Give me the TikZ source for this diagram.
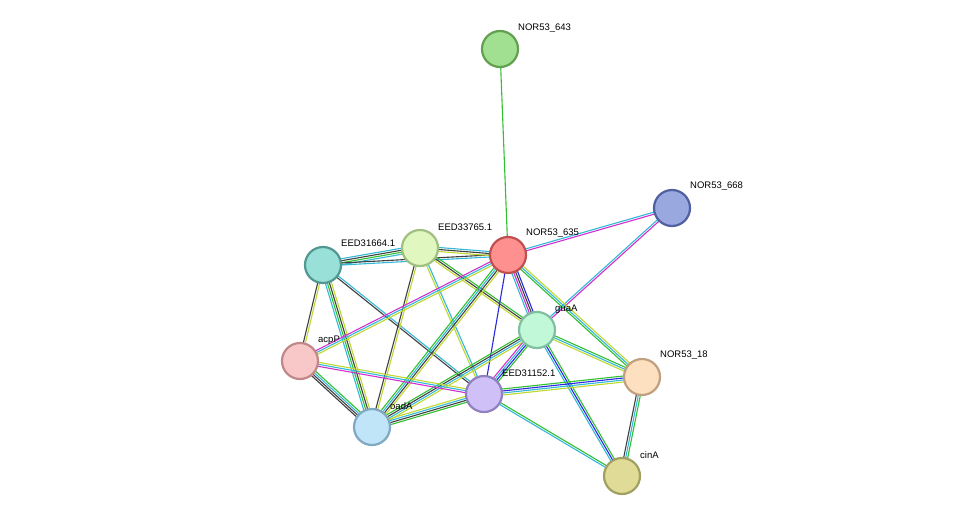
\documentclass[tikz,border=0pt]{standalone}
\usepackage{fontspec}
\setmainfont{Liberation Sans}
\usetikzlibrary{calc}
\definecolor{cC}{HTML}{33B8D8}
\definecolor{cM}{HTML}{D030D0}
\definecolor{cK}{HTML}{404040}
\definecolor{cG}{HTML}{30C030}
\definecolor{cY}{HTML}{C0D830}
\definecolor{cB}{HTML}{2828E0}
\definecolor{f1}{HTML}{A0E090}\definecolor{d1}{HTML}{60A050}
\definecolor{f2}{HTML}{9AA8E0}\definecolor{d2}{HTML}{5060A0}
\definecolor{f3}{HTML}{FF9090}\definecolor{d3}{HTML}{C05050}
\definecolor{f4}{HTML}{E0F8C0}\definecolor{d4}{HTML}{A0C080}
\definecolor{f5}{HTML}{98E0D8}\definecolor{d5}{HTML}{509890}
\definecolor{f6}{HTML}{C0F8D8}\definecolor{d6}{HTML}{80C0A0}
\definecolor{f7}{HTML}{F8C8C8}\definecolor{d7}{HTML}{C08888}
\definecolor{f8}{HTML}{D0C0F8}\definecolor{d8}{HTML}{9080C0}
\definecolor{f9}{HTML}{FDE0C0}\definecolor{d9}{HTML}{C0A080}
\definecolor{f10}{HTML}{C0E4F8}\definecolor{d10}{HTML}{80A8C0}
\definecolor{f11}{HTML}{E0DC98}\definecolor{d11}{HTML}{A0A060}
\newcommand\edg[3]{\foreach \c/\o in {#3}{\draw[line width=1.1pt,\c] ($(#1)!\o pt!90:(#2)$) -- ($(#2)!\o pt!-90:(#1)$);}}
\tikzset{prot/.style={circle,minimum size=36pt,inner sep=0pt,line width=2.2pt,fill=f#1,draw=d#1},
lab/.style={anchor=west,font=\fontsize{9.5pt}{11pt}\selectfont,inner sep=0pt}}
\begin{document}
\begin{tikzpicture}[x=1pt,y=-1pt]
\useasboundingbox[fill=white] (0,0) rectangle (976,522);
\coordinate (n643) at (500,49);
\coordinate (n668) at (672,208);
\coordinate (n635) at (508,255);
\coordinate (e765) at (420,248);
\coordinate (e664) at (323,265);
\coordinate (gua) at (537,330);
\coordinate (acp) at (300,361);
\coordinate (e152) at (484,394);
\coordinate (n18) at (642,377);
\coordinate (oad) at (372,427);
\coordinate (cin) at (622,476);
\edg{n643}{n635}{cG/0}
\edg{n635}{n668}{cM/-1,cC/1}
\edg{gua}{n668}{cM/-1,cC/1}
\edg{e664}{e765}{cC/-3,cG/-1,cK/1,cC/3}
\edg{e664}{n635}{cC/-1,cK/1}
\edg{e765}{n635}{cY/-2,cK/0,cC/2}
\edg{e664}{acp}{cK/-1,cY/1}
\edg{e664}{oad}{cC/-3,cG/-1,cK/1,cY/3}
\edg{e664}{e152}{cK/-1,cC/1}
\edg{e765}{oad}{cK/-1,cY/1}
\edg{e765}{e152}{cY/-1,cC/1}
\edg{e765}{gua}{cY/-2,cK/0,cG/2}
\edg{n635}{acp}{cM/-2,cC/0,cY/2}
\edg{n635}{oad}{cG/-3,cC/-1,cK/1,cY/3}
\edg{n635}{e152}{cB/0}
\edg{n635}{gua}{cC/-3,cM/-1,cK/1,cB/3}
\edg{n635}{n18}{cG/-2,cC/0,cY/2}
\edg{gua}{cin}{cC/-2,cB/0,cG/2}
\edg{gua}{n18}{cY/-2,cC/0,cG/2}
\edg{gua}{e152}{cM/-3,cC/-1,cB/1,cG/3}
\edg{gua}{oad}{cG/-3,cK/-1,cC/1,cY/3}
\edg{acp}{e152}{cM/-2,cC/0,cY/2}
\edg{acp}{oad}{cK/-3,cK/-1,cC/1,cG/3}
\edg{oad}{e152}{cG/-3,cK/-1,cC/1,cY/3}
\edg{e152}{n18}{cY/-3,cC/-1,cB/1,cG/3}
\edg{e152}{cin}{cC/-1,cG/1}
\edg{n18}{cin}{cK/-2,cC/0,cG/2}
\node[prot=1] (a643) at (n643) {};
\node[prot=2] (a668) at (n668) {};
\node[prot=3] (a635) at (n635) {};
\node[prot=4] (a765) at (e765) {};
\node[prot=5] (a664) at (e664) {};
\node[prot=6] (agua) at (gua) {};
\node[prot=7] (aacp) at (acp) {};
\node[prot=8] (a152) at (e152) {};
\node[prot=9] (a18) at (n18) {};
\node[prot=10] (aoad) at (oad) {};
\node[prot=11] (acin) at (cin) {};
\node[lab] (l1) at (518,28) {NOR53\_643};
\node[lab] (l2) at (690,186) {NOR53\_668};
\node[lab] (l3) at (526,233) {NOR53\_635};
\node[lab] (l4) at (438,227) {EED33765.1};
\node[lab] (l5) at (341,243) {EED31664.1};
\node[lab] (l6) at (555,309) {guaA};
\node[lab] (l7) at (318,340) {acpP};
\node[lab] (l8) at (502,373) {EED31152.1};
\node[lab] (l9) at (660,355) {NOR53\_18};
\node[lab] (l10) at (390,406) {oadA};
\node[lab] (l11) at (640,455) {cinA};
\end{tikzpicture}
\end{document}
